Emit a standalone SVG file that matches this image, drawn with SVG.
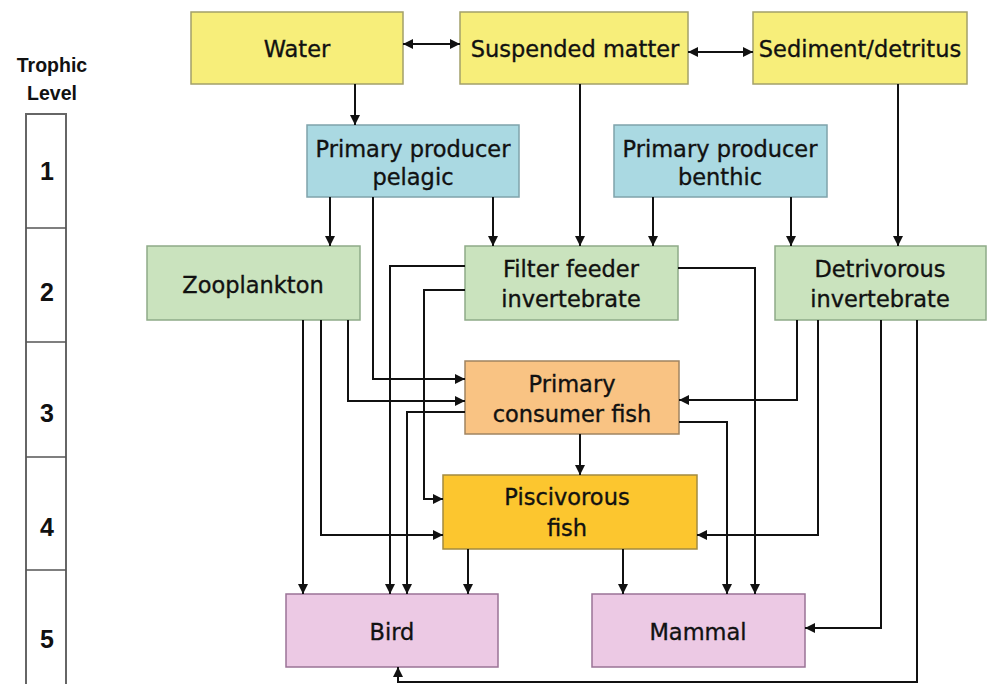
<svg xmlns="http://www.w3.org/2000/svg" width="988" height="684" viewBox="0 0 988 684">
<style>
.box{stroke-width:1.5}
.y{fill:#f7ee7a;stroke:#a3a06a}
.b{fill:#aad9e2;stroke:#7fa3ab}
.g{fill:#cae3be;stroke:#8eab88}
.o{fill:#f9c383;stroke:#a08460}
.p{fill:#fcc62f;stroke:#a38b40}
.k{fill:#ecc9e4;stroke:#9a7396}
.t{font-family:"DejaVu Sans",sans-serif;font-size:22.5px;fill:#111;stroke:#111;stroke-width:0.35;text-anchor:middle}
.tl{font-family:"Liberation Sans",Arial,sans-serif;font-weight:bold;fill:#111;text-anchor:middle}
.c path{fill:none;stroke:#111;stroke-width:2}
.col{fill:#fff;stroke:#666;stroke-width:2}
</style>
<defs>
<marker id="a" viewBox="0 0 10 10" refX="10" refY="5" markerWidth="10" markerHeight="10" orient="auto-start-reverse" markerUnits="userSpaceOnUse"><path d="M0,0 L10,5 L0,10 z" fill="#111"/></marker>
</defs>
<rect width="988" height="684" fill="#fff"/>

<g id="trophic">
<text class="tl" x="52" y="72" font-size="19.5">Trophic</text>
<text class="tl" x="52" y="100" font-size="19.5">Level</text>
<rect class="col" x="26" y="114" width="40" height="580"/>
<path d="M26,228 H66 M26,342 H66 M26,457 H66 M26,570 H66" stroke="#555" stroke-width="1.5"/>
<text class="tl" x="47" y="180" font-size="25">1</text>
<text class="tl" x="47" y="301" font-size="25">2</text>
<text class="tl" x="47" y="422" font-size="25">3</text>
<text class="tl" x="47" y="536" font-size="25">4</text>
<text class="tl" x="47" y="648" font-size="25">5</text>
</g>

<g id="water"><rect class="box y" x="191" y="12" width="212" height="72"/><text class="t" x="297" y="57">Water</text></g>
<g id="suspended"><rect class="box y" x="460" y="12" width="228" height="72"/><text class="t" x="575" y="57">Suspended matter</text></g>
<g id="sediment"><rect class="box y" x="753" y="12" width="214" height="72"/><text class="t" x="860" y="57">Sediment/detritus</text></g>
<g id="pp-pelagic"><rect class="box b" x="307" y="125" width="212" height="72"/><text class="t" x="413" y="157">Primary producer</text><text class="t" x="413" y="185">pelagic</text></g>
<g id="pp-benthic"><rect class="box b" x="614" y="125" width="213" height="72"/><text class="t" x="720" y="157">Primary producer</text><text class="t" x="720" y="185">benthic</text></g>
<g id="zooplankton"><rect class="box g" x="147" y="246" width="213" height="74"/><text class="t" x="253" y="293">Zooplankton</text></g>
<g id="filter"><rect class="box g" x="465" y="246" width="213" height="74"/><text class="t" x="571" y="277">Filter feeder</text><text class="t" x="571" y="307">invertebrate</text></g>
<g id="detrivorous"><rect class="box g" x="775" y="246" width="211" height="74"/><text class="t" x="880" y="277">Detrivorous</text><text class="t" x="880" y="307">invertebrate</text></g>
<g id="pcf"><rect class="box o" x="465" y="361" width="214" height="73"/><text class="t" x="572" y="392">Primary</text><text class="t" x="572" y="422">consumer fish</text></g>
<g id="piscivorous"><rect class="box p" x="443" y="475" width="254" height="74"/><text class="t" x="567" y="505">Piscivorous</text><text class="t" x="567" y="536">fish</text></g>
<g id="bird"><rect class="box k" x="286" y="594" width="212" height="73"/><text class="t" x="392" y="640">Bird</text></g>
<g id="mammal"><rect class="box k" x="592" y="594" width="213" height="73"/><text class="t" x="698" y="640">Mammal</text></g>

<g id="connectors" class="c">
<path d="M403,44 H460" marker-start="url(#a)" marker-end="url(#a)"/>
<path d="M688,52 H753" marker-start="url(#a)" marker-end="url(#a)"/>
<path d="M355,84 V125" marker-end="url(#a)"/>
<path d="M580,84 V246" marker-end="url(#a)"/>
<path d="M898,84 V246" marker-end="url(#a)"/>
<path d="M330,197 V246" marker-end="url(#a)"/>
<path d="M493,197 V246" marker-end="url(#a)"/>
<path d="M653,197 V246" marker-end="url(#a)"/>
<path d="M791,197 V246" marker-end="url(#a)"/>
<path d="M373,197 V379 H465" marker-end="url(#a)"/>
<path d="M348,320 V401 H465" marker-end="url(#a)"/>
<path d="M465,266 H390 V594" marker-end="url(#a)"/>
<path d="M465,290 H424 V499 H443" marker-end="url(#a)"/>
<path d="M303,320 V594" marker-end="url(#a)"/>
<path d="M321,320 V535 H443" marker-end="url(#a)"/>
<path d="M465,412 H407 V594" marker-end="url(#a)"/>
<path d="M580,434 V475" marker-end="url(#a)"/>
<path d="M468,549 V594" marker-end="url(#a)"/>
<path d="M623,549 V594" marker-end="url(#a)"/>
<path d="M678,268 H755 V594" marker-end="url(#a)"/>
<path d="M679,422 H727 V594" marker-end="url(#a)"/>
<path d="M797,320 V400 H679" marker-end="url(#a)"/>
<path d="M818,320 V535 H697" marker-end="url(#a)"/>
<path d="M881,320 V628 H805" marker-end="url(#a)"/>
<path d="M917,320 V682 H398 V667" marker-end="url(#a)"/>
</g>
</svg>
